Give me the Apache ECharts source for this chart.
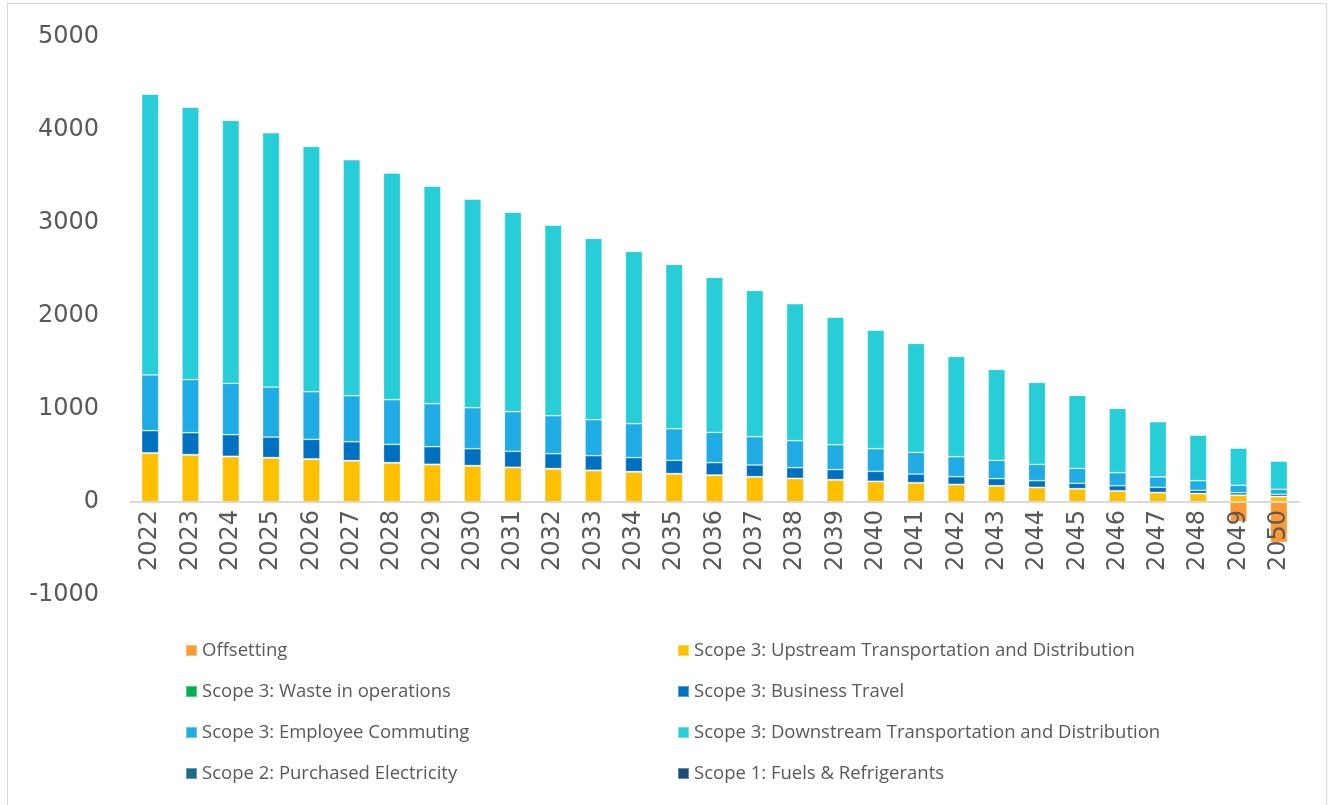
<!DOCTYPE html>
<html>
<head>
<meta charset="utf-8">
<script src="https://cdn.jsdelivr.net/npm/echarts@6/dist/echarts.min.js"></script>
<style>
  html, body { margin: 0; padding: 0; background: #ffffff; }
  #chart { width: 1336px; height: 805px; position: absolute; left: 0; top: 0; }
  #frame { position: absolute; left: 7px; top: 3px; width: 1320px; height: 820px; border: 1.5px solid #d9d9d9; box-sizing: border-box; pointer-events: none; }
</style>
</head>
<body>
<div id="chart"></div>
<div id="frame"></div>
<script>
const years = ['2022','2023','2024','2025','2026','2027','2028','2029','2030','2031','2032','2033','2034','2035','2036','2037','2038','2039','2040','2041','2042','2043','2044','2045','2046','2047','2048','2049','2050'];

const offsetting = [0,0,0,0,0,0,0,0,0,0,0,0,0,0,0,0,0,0,0,0,0,0,0,0,0,0,0,-210,-435];
const upstream   = [524,505,487,473,459,441,419,401,387,369,355,337,323,301,287,269,251,237,219,204,186,172,154,140,118,100,89,72,57];
const waste      = [5,5,5,5,5,5,5,5,5,5,5,5,5,5,4,4,4,4,4,4,4,4,4,4,3,3,3,3,3];
const business   = [238,235,232,220,210,202,196,189,181,171,159,156,149,142,132,125,114,107,107,93,82,75,71,57,54,55,34,25,23];
const commuting  = [599,570,552,538,512,495,480,462,441,426,409,387,365,340,326,304,290,268,243,233,215,197,176,161,140,111,103,80,54];
const downstream = [3021,2932,2828,2735,2638,2538,2438,2341,2244,2147,2050,1950,1853,1768,1667,1574,1474,1373,1276,1172,1079,979,882,785,692,595,491,401,304];
const scope2     = [0,0,0,0,0,0,0,0,0,0,0,0,0,0,0,0,0,0,0,0,0,0,0,0,0,0,0,0,0];
const scope1     = [0,0,0,0,0,0,0,0,0,0,0,0,0,0,0,0,0,0,0,0,0,0,0,0,0,0,0,0,0];

const yTicks = { min: -1000, max: 5000, interval: 1000 };

const names = {
  off: 'Offsetting',
  up: 'Scope 3: Upstream Transportation and Distribution',
  waste: 'Scope 3: Waste in operations',
  bus: 'Scope 3: Business Travel',
  com: 'Scope 3: Employee Commuting',
  down: 'Scope 3: Downstream Transportation and Distribution',
  s2: 'Scope 2: Purchased Electricity',
  s1: 'Scope 1: Fuels & Refrigerants'
};

const colors = {
  off: '#FF9933', up: '#FFC000', waste: '#00B050', bus: '#0070C0',
  com: '#1FABE3', down: '#27CED7', s2: '#1B6B8A', s1: '#1A4C78'
};

function bar(key, data) {
  return {
    name: names[key], type: 'bar', stack: 'total', data: data,
    barWidth: 17, z: 2,
    itemStyle: { color: colors[key], borderColor: 'rgba(255,255,255,0.35)', borderWidth: 0.8 },
    emphasis: { disabled: true }
  };
}

const legendText = { color: '#595959', fontSize: 18.5, fontFamily: 'Open Sans' };

const chart = echarts.init(document.getElementById('chart'), null, { renderer: 'canvas' });
chart.setOption({
  animation: false,
  backgroundColor: '#ffffff',
  grid: { left: 130, right: 37, top: 37, bottom: 210, containLabel: false },
  xAxis: {
    type: 'category', data: years,
    offset: -93, z: 10,
    axisLine: { onZero: false, lineStyle: { color: '#d9d9d9', width: 2 } },
    axisTick: { show: false },
    axisLabel: { rotate: 90, margin: 8, color: '#595959', fontSize: 24, fontFamily: 'DejaVu Sans', interval: 0 }
  },
  yAxis: {
    type: 'value', min: yTicks.min, max: yTicks.max, interval: yTicks.interval,
    axisLine: { show: false }, axisTick: { show: false },
    splitLine: { show: false },
    axisLabel: { margin: 31, color: '#595959', fontSize: 24, fontFamily: 'DejaVu Sans', formatter: function (v) { return String(v); } }
  },
  legend: [
    {
      orient: 'vertical', left: 180, top: 636, itemWidth: 11, itemHeight: 11, itemGap: 22,
      icon: 'rect', textStyle: legendText, selectedMode: false,
      data: [names.off, names.waste, names.com, names.s2]
    },
    {
      orient: 'vertical', left: 672, top: 636, itemWidth: 11, itemHeight: 11, itemGap: 22,
      icon: 'rect', textStyle: legendText, selectedMode: false,
      data: [names.up, names.bus, names.down, names.s1]
    }
  ],
  series: [
    bar('off', offsetting),
    bar('up', upstream),
    bar('waste', waste),
    bar('bus', business),
    bar('com', commuting),
    bar('down', downstream),
    bar('s2', scope2),
    bar('s1', scope1)
  ]
});
</script>
</body>
</html>
